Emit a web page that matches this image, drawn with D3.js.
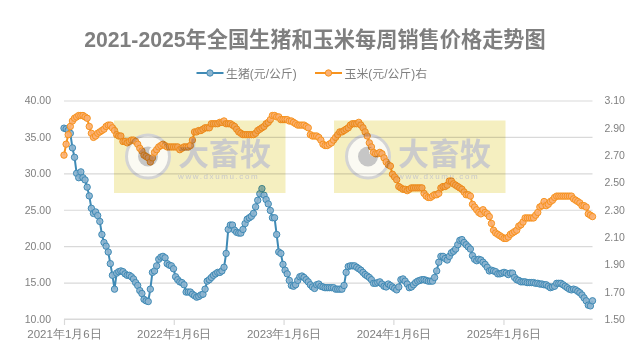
<!DOCTYPE html>
<html>
<head>
<meta charset="utf-8">
<script src="https://cdn.jsdelivr.net/npm/d3@7"></script>
<style>
  html, body { margin: 0; padding: 0; background: #fff; }
  svg { display: block; font-family: "Liberation Sans", "Noto Sans CJK SC", sans-serif; }
</style>
</head>
<body>
<div id="chart"></div>
<script>
const title_text = "2021-2025年全国生猪和玉米每周销售价格走势图"
const series_names = ["生猪(元/公斤)", "玉米(元/公斤)右"]
const first_week = new Date(2021, 0, 6)
const x_tick_years = [2021, 2022, 2023, 2024, 2025]
const left_ticks = [10, 15, 20, 25, 30, 35, 40]
const right_ticks = [1.5, 1.7, 1.9, 2.1, 2.3, 2.5, 2.7, 2.9, 3.1]

// weekly prices
const hog_prices = [
  36.2, 36.1, 35.9, 35.5, 33.5, 32.2, 30.0, 29.4, 30.2, 29.4,
  29.1, 28.1, 26.9, 25.2, 24.5, 24.7, 24.2, 23.4, 21.6, 20.5,
  20.0, 19.2, 17.6, 16.0, 14.1, 16.3, 16.5, 16.6, 16.5, 16.2,
  16.0, 16.0, 15.8, 15.5, 15.0, 14.6, 13.9, 13.5, 12.7, 12.5,
  12.4, 14.1, 16.4, 16.6, 17.3, 18.2, 18.5, 18.6, 18.4, 17.6,
  17.4, 17.3, 16.9, 15.8, 15.4, 15.1, 15.0, 14.7, 13.7, 13.7,
  13.7, 13.4, 13.2, 13.0, 13.1, 13.3, 13.4, 14.1, 15.2, 15.4,
  15.7, 16.0, 16.2, 16.4, 16.4, 16.6, 17.1, 19.0, 22.3, 22.9,
  22.9, 22.2, 21.9, 21.8, 21.8, 22.3, 23.1, 23.7, 23.9, 24.1,
  24.5, 25.4, 26.3, 27.2, 27.9, 27.0, 26.4, 25.8, 24.9, 23.9,
  23.9, 21.6, 19.2, 19.0, 17.5, 16.7, 16.2, 15.3, 14.6, 14.5,
  14.7, 15.3, 15.8, 15.9, 15.7, 15.4, 15.1, 14.7, 14.4, 14.2,
  14.7, 14.8, 14.5, 14.4, 14.3, 14.3, 14.3, 14.3, 14.3, 14.1,
  14.1, 14.1, 14.1, 14.6, 16.4, 17.2, 17.3, 17.3, 17.3, 17.1,
  16.9, 16.7, 16.4, 16.1, 15.9, 15.7, 15.4, 14.9, 14.9, 15.0,
  15.1, 14.8, 14.5, 14.4, 14.8, 14.6, 14.4, 14.2, 14.0, 14.4,
  15.4, 15.5, 15.2, 14.8, 14.3, 14.4, 14.7, 15.0, 15.2, 15.3,
  15.4, 15.4, 15.3, 15.2, 15.2, 15.2, 15.7, 16.6, 17.8, 18.6,
  18.6, 18.3, 18.1, 18.6, 19.1, 19.3, 19.6, 20.2, 20.8, 20.9,
  20.5, 20.2, 19.9, 19.6, 18.7, 18.2, 18.0, 18.2, 18.1, 17.8,
  17.5, 17.1, 16.6, 16.7, 16.6, 16.5, 16.2, 16.2, 16.3, 16.4,
  16.3, 16.1, 16.3, 16.3, 15.7, 15.4, 15.3, 15.1, 15.1, 15.1,
  15.0, 15.0, 15.0, 15.0, 14.9, 14.9, 14.8, 14.8, 14.7, 14.7,
  14.5, 14.3, 14.4, 14.5, 14.9, 14.9, 14.9, 14.7, 14.5, 14.3,
  14.1, 14.0, 14.1, 14.0, 13.8, 13.6, 13.3, 12.9, 12.5, 11.9,
  11.8, 12.5
]

const corn_prices = [
  2.70, 2.78, 2.85, 2.91, 2.95, 2.97, 2.98, 2.99, 2.99, 2.99,
  2.98, 2.97, 2.91, 2.86, 2.83, 2.84, 2.86, 2.87, 2.88, 2.89,
  2.91, 2.92, 2.92, 2.90, 2.88, 2.85, 2.84, 2.84, 2.80, 2.80,
  2.79, 2.80, 2.81, 2.81, 2.80, 2.78, 2.75, 2.73, 2.70, 2.69,
  2.68, 2.65, 2.68, 2.72, 2.74, 2.76, 2.77, 2.78, 2.77, 2.76,
  2.76, 2.76, 2.76, 2.76, 2.76, 2.74, 2.75, 2.76, 2.76, 2.76,
  2.77, 2.81, 2.87, 2.87, 2.88, 2.88, 2.89, 2.90, 2.90, 2.90,
  2.93, 2.93, 2.93, 2.93, 2.94, 2.94, 2.95, 2.93, 2.93, 2.93,
  2.92, 2.91, 2.89, 2.87, 2.86, 2.85, 2.85, 2.85, 2.85, 2.85,
  2.85, 2.86, 2.88, 2.89, 2.90, 2.91, 2.93, 2.94, 2.96, 2.99,
  2.99, 2.98, 2.98, 2.96, 2.96, 2.96, 2.96, 2.95, 2.95, 2.94,
  2.93, 2.92, 2.92, 2.92, 2.92, 2.91, 2.90, 2.85, 2.84, 2.84,
  2.84, 2.83, 2.81, 2.78, 2.77, 2.77, 2.78, 2.79, 2.81, 2.83,
  2.85, 2.87, 2.87, 2.88, 2.89, 2.90, 2.92, 2.93, 2.93, 2.93,
  2.94, 2.92, 2.90, 2.87, 2.84, 2.79, 2.76, 2.72, 2.71, 2.71,
  2.72, 2.71, 2.68, 2.65, 2.63, 2.62, 2.56, 2.54, 2.52, 2.47,
  2.46, 2.45, 2.45, 2.44, 2.45, 2.46, 2.46, 2.46, 2.46, 2.46,
  2.46, 2.42, 2.40, 2.39, 2.39, 2.40, 2.41, 2.41, 2.42, 2.46,
  2.47, 2.47, 2.48, 2.51, 2.51, 2.49, 2.48, 2.47, 2.46, 2.45,
  2.43, 2.41, 2.41, 2.40, 2.34, 2.32, 2.30, 2.28, 2.27, 2.30,
  2.28, 2.27, 2.25, 2.20, 2.15, 2.13, 2.12, 2.11, 2.10, 2.09,
  2.09, 2.10, 2.12, 2.13, 2.14, 2.15, 2.18, 2.19, 2.21, 2.24,
  2.24, 2.24, 2.24, 2.24, 2.26, 2.28, 2.32, 2.33, 2.36, 2.33,
  2.34, 2.36, 2.37, 2.39, 2.40, 2.40, 2.40, 2.40, 2.40, 2.40,
  2.40, 2.40, 2.38, 2.37, 2.36, 2.35, 2.33, 2.33, 2.32, 2.27,
  2.26, 2.25
]

const width = 637
const height = 359
const plot = { left: 64, right: 592.5, top: 100.5, bottom: 319 }
const text_gray = "#7f7f7f"
const grid_gray = "#d9d9d9"

const week_dates = hog_prices.map((d, i) => d3.timeDay.offset(first_week, i * 7))

const x = d3.scaleTime().domain([week_dates[0], week_dates[week_dates.length - 1]]).range([plot.left, plot.right])
const y_left = d3.scaleLinear().domain([10, 40]).range([plot.bottom, plot.top])
const y_right = d3.scaleLinear().domain([1.5, 3.1]).range([plot.bottom, plot.top])

const svg = d3.select("#chart").append("svg")
  .attr("width", width)
  .attr("height", height)
  .attr("viewBox", `0 0 ${width} ${height}`)

svg.append("text")
  .attr("x", 315)
  .attr("y", 46.5)
  .attr("text-anchor", "middle")
  .attr("font-size", 21.2)
  .attr("font-weight", "bold")
  .attr("fill", text_gray)
  .text(title_text)

// gridlines and left axis
const left_axis = svg.append("g")
  .attr("transform", `translate(${plot.left},0)`)
  .call(d3.axisLeft(y_left).tickValues(left_ticks).tickFormat(d3.format(".2f")).tickSize(-(plot.right - plot.left)).tickPadding(13))
left_axis.select(".domain").remove()
left_axis.selectAll("line").attr("stroke", grid_gray).attr("stroke-width", 1.2)
left_axis.selectAll("text").attr("fill", text_gray).attr("font-size", 10.5).attr("font-family", null)

const right_axis = svg.append("g")
  .attr("transform", `translate(${plot.right},0)`)
  .call(d3.axisRight(y_right).tickValues(right_ticks).tickFormat(d3.format(".2f")).tickSize(0).tickPadding(12))
right_axis.select(".domain").remove()
right_axis.selectAll("text").attr("fill", text_gray).attr("font-size", 10.5).attr("font-family", null)

// bottom axis
const x_ticks = x_tick_years.map(d => new Date(d, 0, 6))
const bottom_axis = svg.append("g")
  .attr("transform", `translate(0,${plot.bottom})`)
  .call(d3.axisBottom(x).tickValues(x_ticks).tickFormat(d => `${d.getFullYear()}年1月6日`).tickSize(6).tickPadding(5))
bottom_axis.select(".domain").attr("stroke", grid_gray).attr("stroke-width", 1.2).attr("d", `M${plot.left},0H${plot.right}`)
bottom_axis.selectAll("line").attr("stroke", grid_gray).attr("stroke-width", 1.2)
bottom_axis.selectAll("text").attr("fill", text_gray).attr("font-size", 11.5).attr("font-family", null)

function draw_series(values, y_scale, line_color, marker_fill) {
  let line = d3.line().x((d, i) => x(week_dates[i])).y(d => y_scale(d))
  let group = svg.append("g")
  group.append("path")
    .datum(values)
    .attr("fill", "none")
    .attr("stroke", line_color)
    .attr("stroke-width", 2)
    .attr("d", line)
  group.selectAll("circle").data(values).enter().append("circle")
    .attr("cx", (d, i) => x(week_dates[i]))
    .attr("cy", d => y_scale(d))
    .attr("r", 3.2)
    .attr("fill", marker_fill)
    .attr("fill-opacity", 0.9)
    .attr("stroke", line_color)
    .attr("stroke-width", 1)
}

draw_series(hog_prices, y_left, "#3f8ab5", "#8db4cf")
draw_series(corn_prices, y_right, "#f7931e", "#fbb073")

// legend
function draw_legend(line_x, text_x, name, line_color, marker_fill) {
  let group = svg.append("g")
  group.append("line")
    .attr("x1", line_x).attr("x2", line_x + 27)
    .attr("y1", 73).attr("y2", 73)
    .attr("stroke", line_color).attr("stroke-width", 2)
  group.append("circle")
    .attr("cx", line_x + 13.5).attr("cy", 73).attr("r", 3.2)
    .attr("fill", marker_fill).attr("stroke", line_color).attr("stroke-width", 1)
  group.append("text")
    .attr("x", text_x).attr("y", 77.5)
    .attr("font-size", 11.9).attr("fill", text_gray)
    .text(name)
}

draw_legend(196.5, 226, series_names[0], "#3f8ab5", "#8db4cf")
draw_legend(315, 344.5, series_names[1], "#f7931e", "#fbb073")

// watermark stamps sit on top of the chart and tint it
function draw_stamp(left) {
  let group = svg.append("g")
    .attr("transform", `translate(${left},120.5)`)
    .style("mix-blend-mode", "multiply")
  group.append("rect")
    .attr("width", 171.5).attr("height", 72.5)
    .attr("fill", "#f5efc0")
  group.append("circle")
    .attr("cx", 34).attr("cy", 36).attr("r", 21.5)
    .attr("fill", "#fbfaf3").attr("stroke", "#d4d4d4").attr("stroke-width", 3)
  group.append("circle")
    .attr("cx", 34).attr("cy", 36).attr("r", 10)
    .attr("fill", "#c6c6c6")
  group.append("circle")
    .attr("cx", 40).attr("cy", 31).attr("r", 5)
    .attr("fill", "#fbfaf3")
  group.append("text")
    .attr("x", 64).attr("y", 44.5)
    .attr("font-size", 31).attr("font-weight", "bold").attr("fill", "#cbcbcb")
    .text("大畜牧")
  group.append("text")
    .attr("x", 64).attr("y", 58.5)
    .attr("font-size", 8).attr("letter-spacing", 1.6).attr("fill", "#c9c9c9")
    .text("www.dxumu.com")
}

draw_stamp(114)
draw_stamp(334)
</script>
</body>
</html>
